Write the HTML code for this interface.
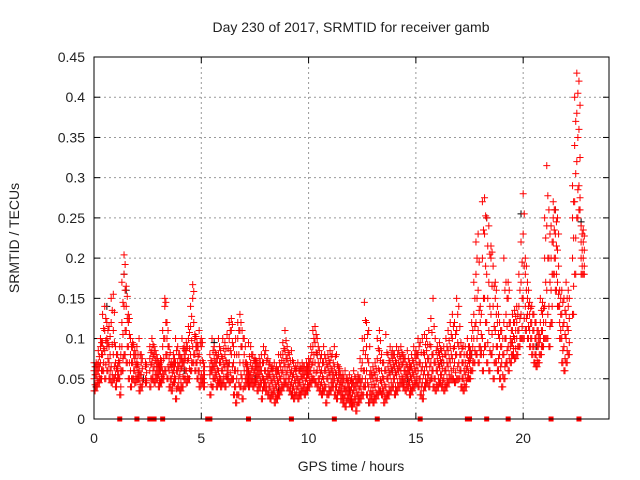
<!DOCTYPE html>
<html><head><meta charset="utf-8"><style>
html,body{margin:0;padding:0;background:#fff;}
svg{display:block;font-family:"Liberation Sans",sans-serif;}
</style></head><body>
<svg id="chart" width="640" height="480" viewBox="0 0 640 480">
<rect width="640" height="480" fill="#fff"/>
<text x="351" y="32" font-size="14" text-anchor="middle" fill="#222">Day 230 of 2017, SRMTID for receiver gamb</text>
<text x="351" y="471" font-size="14" text-anchor="middle" fill="#222">GPS time / hours</text>
<text transform="translate(19,238) rotate(-90)" font-size="14" text-anchor="middle" fill="#222">SRMTID / TECUs</text>
<g id="grid"></g>
<g id="ticks"></g>
<g id="marks"></g>
<rect x="94" y="57" width="515" height="362" fill="none" stroke="#000" stroke-width="1"/>
</svg>
<script>
const xTicks=[0,5,10,15,20];
const yTicks=[0,0.05,0.1,0.15,0.2,0.25,0.3,0.35,0.4,0.45];
const yTickLabels=["0","0.05","0.1","0.15","0.2","0.25","0.3","0.35","0.4","0.45"];
const redData=[
[0.0,.035,.05,.06,.07],[0.1,.04,.055,.065,.07],[0.2,.045,.06,.07,.085],[0.3,.05,.07,.09,.1],[0.4,.06,.08,.095,.13],[0.5,.05,.085,.11,.14],[0.6,.06,.09,.1,.12],[0.7,.05,.07,.09,.115],[0.8,.045,.065,.12,.15],[0.9,.05,.08,.11,.155],
[1.0,.04,.055,.07,.09],[1.1,.05,.06,.08,.065],[1.2,.03,.05,.07,.09],[1.3,.06,.09,.12,.17],[1.4,.08,.14,.18,.204],[1.5,.07,.11,.14,.165],[1.6,.05,.09,.12,.13],[1.7,.04,.06,.08,.1],[1.8,.05,.07,.09,.095],[1.9,.045,.06,.075,.085],
[2.0,.05,.065,.07,.09],[2.1,.035,.05,.06,.1],[2.2,.04,.055,.07,.08],[2.4,.045,.05,.065,.07],[2.6,.04,.06,.075,.09],[2.7,.05,.07,.085,.1],[2.8,.045,.065,.08,.09],[2.9,.05,.06,.07,.08],
[3.0,.04,.055,.065,.07],[3.1,.045,.06,.07,.075],[3.2,.05,.06,.09,.11],[3.3,.06,.1,.14,.15],[3.4,.05,.08,.1,.12],[3.5,.04,.06,.075,.09],[3.6,.035,.05,.065,.07],[3.7,.045,.06,.07,.08],[3.8,.025,.05,.07,.1],[3.9,.04,.06,.07,.09],
[4.0,.035,.055,.07,.08],[4.1,.04,.065,.075,.1],[4.2,.05,.07,.08,.09],[4.3,.045,.06,.085,.095],[4.4,.05,.075,.1,.115],[4.5,.06,.08,.115,.14],[4.6,.07,.09,.15,.167],[4.7,.06,.08,.1,.105],[4.8,.05,.07,.085,.095],[4.9,.04,.06,.08,.11],
[5.0,.045,.055,.09,.1],[5.1,.04,.05,.06,.07],[5.4,.03,.055,.065,.08],[5.5,.04,.06,.07,.1],[5.6,.05,.065,.075,.09],[5.7,.04,.055,.07,.08],[5.8,.045,.06,.08,.1],[5.9,.04,.05,.07,.085],
[6.0,.045,.06,.075,.1],[6.1,.04,.065,.08,.095],[6.2,.05,.06,.07,.105],[6.3,.045,.07,.1,.12],[6.4,.05,.08,.11,.125],[6.5,.03,.05,.07,.09],[6.6,.02,.04,.06,.1],[6.7,.03,.06,.1,.12],[6.8,.04,.07,.11,.13],[6.9,.025,.05,.09,.11],
[7.0,.04,.06,.08,.1],[7.1,.045,.055,.065,.07],[7.2,.04,.05,.06,.095],[7.3,.045,.055,.07,.09],[7.4,.04,.05,.065,.08],[7.5,.045,.06,.07,.075],[7.6,.035,.05,.06,.07],[7.7,.04,.055,.065,.075],[7.8,.025,.045,.06,.08],[7.9,.04,.05,.07,.09],
[8.0,.035,.045,.06,.085],[8.1,.03,.05,.06,.075],[8.2,.025,.04,.055,.07],[8.3,.03,.045,.06,.065],[8.4,.02,.035,.05,.07],[8.5,.025,.04,.055,.065],[8.6,.03,.045,.06,.08],[8.7,.035,.05,.065,.08],[8.8,.04,.06,.08,.095],[8.9,.045,.065,.085,.11],
[9.0,.04,.06,.075,.09],[9.1,.035,.05,.065,.08],[9.2,.03,.045,.06,.085],[9.3,.025,.04,.055,.07],[9.4,.03,.045,.06,.065],[9.5,.025,.04,.05,.07],[9.6,.03,.045,.06,.065],[9.7,.035,.05,.06,.07],[9.8,.03,.04,.055,.065],[9.9,.035,.05,.06,.07],
[10.0,.04,.055,.065,.075],[10.1,.045,.06,.075,.09],[10.2,.05,.07,.09,.11],[10.3,.045,.07,.095,.115],[10.4,.04,.06,.08,.1],[10.5,.035,.05,.065,.085],[10.6,.03,.045,.06,.08],[10.7,.035,.05,.07,.09],[10.8,.02,.04,.06,.075],[10.9,.03,.05,.065,.08],
[11.0,.035,.055,.07,.085],[11.1,.04,.05,.06,.08],[11.2,.03,.05,.065,.09],[11.3,.025,.04,.055,.08],[11.4,.035,.05,.06,.065],[11.5,.025,.035,.045,.055],[11.6,.02,.03,.045,.055],[11.7,.015,.03,.04,.06],[11.8,.025,.035,.045,.05],[11.9,.02,.03,.04,.055],
[12.0,.015,.025,.04,.05],[12.1,.02,.035,.045,.06],[12.2,.01,.025,.04,.05],[12.3,.02,.03,.045,.055],[12.4,.025,.04,.05,.075],[12.5,.03,.05,.07,.1],[12.6,.04,.06,.1,.145],[12.7,.03,.06,.09,.12],[12.8,.02,.04,.07,.11],[12.9,.025,.035,.05,.06],
[13.0,.02,.035,.05,.065],[13.1,.025,.04,.055,.07],[13.2,.03,.05,.075,.1],[13.3,.035,.06,.085,.11],[13.4,.03,.045,.06,.08],[13.5,.02,.035,.05,.07],[13.6,.025,.04,.06,.105],[13.7,.03,.05,.065,.08],[13.8,.035,.055,.07,.09],[13.9,.04,.06,.075,.085],
[14.0,.03,.05,.065,.08],[14.1,.035,.055,.07,.09],[14.2,.04,.06,.07,.085],[14.3,.045,.06,.075,.09],[14.4,.04,.05,.07,.08],[14.5,.035,.05,.06,.075],[14.6,.04,.055,.065,.085],[14.7,.03,.045,.06,.07],[14.8,.035,.05,.065,.08],[14.9,.04,.055,.07,.09],
[15.0,.045,.06,.075,.085],[15.1,.04,.06,.08,.1],[15.2,.03,.05,.07,.095],[15.3,.025,.045,.065,.1],[15.4,.04,.06,.08,.105],[15.5,.045,.065,.085,.1],[15.6,.04,.055,.075,.11],[15.7,.05,.07,.09,.125],[15.8,.04,.06,.08,.15],[15.9,.035,.05,.07,.1],
[16.0,.04,.06,.075,.09],[16.1,.045,.065,.08,.095],[16.2,.04,.055,.07,.085],[16.3,.035,.05,.07,.09],[16.4,.04,.06,.08,.1],[16.5,.045,.065,.085,.11],[16.6,.05,.07,.09,.12],[16.7,.05,.075,.1,.13],[16.8,.045,.07,.09,.12],[16.9,.05,.08,.11,.15],
[17.0,.05,.07,.09,.14],[17.1,.04,.06,.08,.095],[17.2,.035,.05,.07,.09],[17.3,.04,.055,.07,.09],[17.4,.05,.065,.08,.1],[17.5,.05,.07,.08,.09],[17.6,.06,.08,.1,.12],[17.7,.07,.1,.13,.17],[17.8,.08,.12,.18,.22],[17.9,.07,.11,.16,.23],
[18.0,.08,.09,.12,.14],[18.1,.06,.1,.2,.27],[18.2,.09,.15,.23,.275],[18.3,.07,.12,.18,.25],[18.4,.06,.11,.17,.24],[18.5,.08,.13,.2,.215],[18.6,.05,.09,.14,.19],[18.7,.07,.11,.15,.17],[18.8,.06,.09,.12,.14],[18.9,.05,.08,.1,.12],
[19.0,.04,.07,.09,.11],[19.1,.05,.08,.12,.2],[19.2,.07,.1,.13,.17],[19.3,.06,.09,.15,.17],[19.4,.07,.09,.1,.12],[19.5,.08,.095,.11,.13],[19.6,.075,.1,.12,.135],[19.7,.08,.1,.12,.14],[19.8,.09,.11,.14,.18],[19.9,.1,.13,.17,.22],
[20.0,.1,.15,.23,.28],[20.1,.11,.14,.18,.2],[20.2,.1,.13,.15,.17],[20.3,.09,.11,.13,.145],[20.4,.08,.1,.12,.14],[20.5,.07,.09,.11,.13],[20.6,.065,.08,.1,.12],[20.7,.07,.09,.1,.11],[20.8,.08,.1,.12,.15],[20.9,.09,.11,.13,.145],
[21.0,.1,.14,.2,.25],[21.1,.1,.16,.24,.315],[21.2,.09,.14,.2,.26],[21.3,.12,.16,.2,.24],[21.4,.18,.22,.25,.27],[21.5,.16,.2,.23,.26],[21.6,.14,.17,.21,.25],[21.7,.1,.12,.14,.16],[21.8,.07,.1,.13,.16],[21.9,.06,.09,.12,.15],
[22.0,.07,.1,.13,.17],[22.1,.08,.11,.14,.16],[22.3,.13,.2,.25,.29],[22.4,.18,.27,.34,.4],[22.5,.25,.32,.38,.43],[22.6,.26,.29,.36,.42],[22.7,.18,.2,.22,.24],[22.8,.18,.2,.22,.235]
];
const blackT=[0.1,0.6,1.4,1.5,2.3,4.2,5.6,6.3,7.5,8.6,9.2,10.4,11.9,12.8,13.9,14.6,16.2,17.6,18.3,19.9,20.6,21.5,22.7];
const blackV=[0.04,0.14,0.18,0.16,0.05,0.06,0.095,0.07,0.05,0.035,0.03,0.08,0.035,0.02,0.06,0.05,0.07,0.08,0.25,0.255,0.09,0.26,0.245];
const zeroT=[1.2,2.0,2.6,2.8,3.2,5.3,5.4,7.2,9.2,11.2,13.2,15.2,17.4,17.5,18.3,19.3,21.3,22.6];

const X0=94,X1=609,Y0=419,Y1=57,XMAX=24,YMAX=0.45;
function sx(t){return X0+(X1-X0)*t/XMAX;}
function sy(v){return Y0-(Y0-Y1)*v/YMAX;}
const NS="http://www.w3.org/2000/svg";
function mk(tag,attrs,parent){const e=document.createElementNS(NS,tag);for(const k in attrs)e.setAttribute(k,attrs[k]);parent.appendChild(e);return e;}
const grid=document.getElementById('grid'),ticks=document.getElementById('ticks'),marks=document.getElementById('marks');
xTicks.forEach(t=>{
  const x=sx(t);
  if(t>0){const g=mk('line',{x1:x,x2:x,y1:Y1,y2:Y0,stroke:'#999','stroke-dasharray':'2,3'},grid);
  
  }
  mk('line',{x1:x,x2:x,y1:Y0,y2:Y0-6,stroke:'#000'},ticks);
  mk('line',{x1:x,x2:x,y1:Y1,y2:Y1+6,stroke:'#000'},ticks);
  const l=mk('text',{x:x,y:Y0+24,'font-size':14,'text-anchor':'middle',fill:'#222'},ticks);
  l.textContent=t;
  
  
});
yTicks.forEach((v,i)=>{
  const y=sy(v);
  if(i>0&&i<yTicks.length-1){const g=mk('line',{x1:X0,x2:X1,y1:y,y2:y,stroke:'#999','stroke-dasharray':'2,3'},grid);
  
  }
  mk('line',{x1:X0,x2:X0+6,y1:y,y2:y,stroke:'#000'},ticks);
  mk('line',{x1:X1,x2:X1-6,y1:y,y2:y,stroke:'#000'},ticks);
  const l=mk('text',{x:X0-9,y:y+5,'font-size':14,'text-anchor':'end',fill:'#222'},ticks);
  l.textContent=yTickLabels[i];
  
  
});
function plus(t,v,color,name){
  const x=sx(t),y=sy(v);
  const p=mk('path',{d:`M${x-3.5},${y}H${x+3.5}M${x},${y-3.5}V${y+3.5}`,stroke:color,'stroke-width':1,fill:'none'},marks);
  
  
}
blackT.forEach((t,i)=>plus(t,blackV[i],'#000','black-point'));
redData.forEach(row=>{for(let j=1;j<row.length;j++){plus(row[0],row[j],'#f00','red-point');plus(row[0]+0.05,(row[j]+row[Math.max(1,j-1)])/2,'#f00','red-point');}});
zeroT.forEach(t=>{
  const r=mk('rect',{x:sx(t)-2.5,y:sy(0)-2.5,width:5,height:5,fill:'#f00'},marks);
  
  
});
</script>
</body></html>
